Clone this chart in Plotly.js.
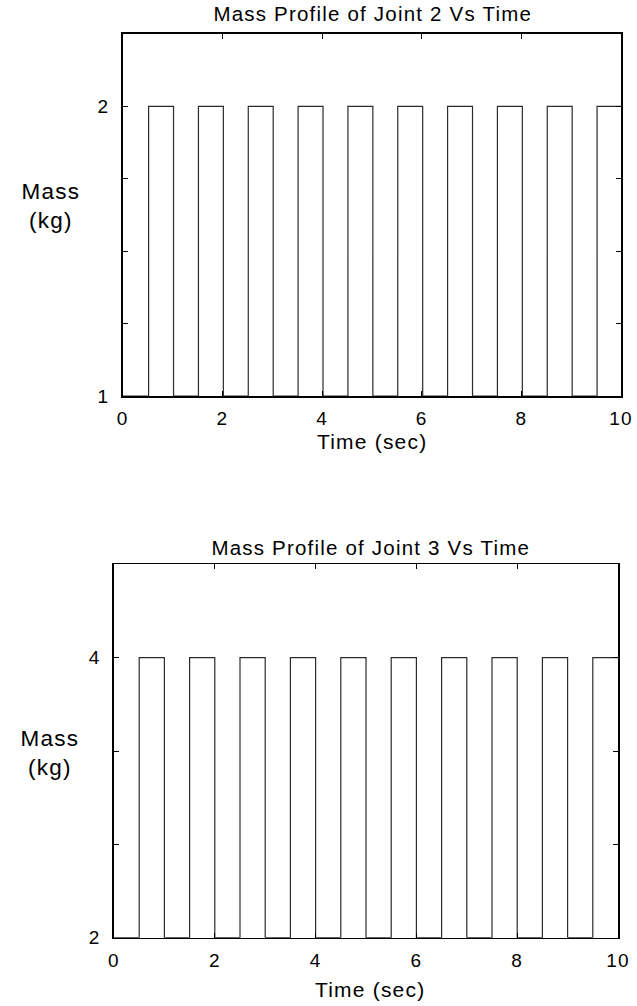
<!DOCTYPE html>
<html>
<head>
<meta charset="utf-8">
<script src="https://cdn.plot.ly/plotly-3.0.1.min.js"></script>
<style>
html, body { margin: 0; padding: 0; background: #fff; }
#chart { width: 637px; height: 1006px; }
#chart text { letter-spacing: 1.2px; }
</style>
</head>
<body>
<div id="chart"></div>
<script>
// ---- data ----
const xTickVals = [0, 2, 4, 6, 8, 10];
const xTickText = ['0', '2', '4', '6', '8', '10'];
const tEnd = 10;

// Joint 2 (top panel)
const j2RiseTimes = [0.52, 1.52, 2.52, 3.52, 4.52, 5.52, 6.52, 7.52, 8.52, 9.52];
const j2FallTimes = [1.02, 2.02, 3.02, 4.02, 5.02, 6.02, 7.02, 8.02, 9.02];
const j2Low = 1;
const j2High = 2;
const j2YTickVals = [1, 1.25, 1.5, 1.75, 2];
const j2YTickText = ['1', '', '', '', '2'];
const j2YRange = [1, 2.25];

// Joint 3 (bottom panel)
const j3RiseTimes = [0.5, 1.5, 2.5, 3.5, 4.5, 5.5, 6.5, 7.5, 8.5, 9.5];
const j3FallTimes = [1.0, 2.0, 3.0, 4.0, 5.0, 6.0, 7.0, 8.0, 9.0];
const j3Low = 2;
const j3High = 4;
const j3YTickVals = [2, 2.6667, 3.3333, 4, 4.6667];
const j3YTickText = ['2', '', '', '4', ''];
const j3YRange = [2, 4.6667];

const titles = ['Mass Profile of Joint 2 Vs Time', 'Mass Profile of Joint 3 Vs Time'];
const xLabel = 'Time (sec)';
const yLabel = 'Mass<br>(kg)';

// ---- build the square-wave paths ----
function pulsePath(rises, falls, low, high, end) {
  const x = [0], y = [low];
  for (let i = 0; i < rises.length; i++) {
    x.push(rises[i], rises[i]); y.push(low, high);
    if (i < falls.length) { x.push(falls[i], falls[i]); y.push(high, low); }
    else { x.push(end); y.push(high); }
  }
  return { x, y };
}
const p2 = pulsePath(j2RiseTimes, j2FallTimes, j2Low, j2High, tEnd);
const p3 = pulsePath(j3RiseTimes, j3FallTimes, j3Low, j3High, tEnd);

const lineStyle = { color: '#2e2a2a', width: 1.2 };
const traces = [
  { x: p2.x, y: p2.y, type: 'scatter', mode: 'lines', line: lineStyle, xaxis: 'x', yaxis: 'y', hoverinfo: 'skip' },
  { x: p3.x, y: p3.y, type: 'scatter', mode: 'lines', line: lineStyle, xaxis: 'x2', yaxis: 'y2', hoverinfo: 'skip' }
];

const font = { family: '"Liberation Sans", Arial, sans-serif', color: '#000' };
function xAxis(domain, anchor) {
  return {
    domain, anchor, range: [0, 10], tickmode: 'array', tickvals: xTickVals, ticktext: xTickText,
    showline: true, linecolor: '#000', linewidth: 1.6, mirror: 'allticks', layer: 'above traces',
    ticks: 'inside', ticklen: 5, tickwidth: 1, tickcolor: '#000',
    showgrid: false, zeroline: false, ticklabelstandoff: 5,
    tickfont: Object.assign({ size: 19 }, font)
  };
}
function yAxis(domain, anchor, range, vals, text) {
  return {
    domain, anchor, range, tickmode: 'array', tickvals: vals, ticktext: text,
    showline: true, linecolor: '#000', linewidth: 1.6, mirror: 'allticks', layer: 'above traces',
    ticks: 'inside', ticklen: 5, tickwidth: 1, tickcolor: '#000',
    showgrid: false, zeroline: false, ticklabelstandoff: 8,
    tickfont: Object.assign({ size: 19 }, font)
  };
}

const W = 637, H = 1006;
const layout = {
  width: W, height: H,
  margin: { l: 0, r: 0, t: 0, b: 0 },
  paper_bgcolor: '#fff', plot_bgcolor: '#fff',
  showlegend: false,
  font: font,
  xaxis: xAxis([122.7 / W, 621 / W], 'y'),
  yaxis: yAxis([1 - 396 / H, 1 - 34 / H], 'x', j2YRange, j2YTickVals, j2YTickText),
  xaxis2: xAxis([114 / W, 618 / W], 'y2'),
  yaxis2: yAxis([1 - 937.7 / H, 1 - 564.3 / H], 'x2', j3YRange, j3YTickVals, j3YTickText),
  annotations: [
    { text: titles[0], xref: 'paper', yref: 'paper', x: 372 / W, y: 1 - 14 / H, showarrow: false, xanchor: 'center', yanchor: 'middle', font: Object.assign({ size: 20.5 }, font) },
    { text: titles[1], xref: 'paper', yref: 'paper', x: 370 / W, y: 1 - 547 / H, showarrow: false, xanchor: 'center', yanchor: 'middle', font: Object.assign({ size: 20.5 }, font) },
    { text: xLabel, xref: 'paper', yref: 'paper', x: 372 / W, y: 1 - 442 / H, showarrow: false, xanchor: 'center', yanchor: 'middle', font: Object.assign({ size: 21 }, font) },
    { text: xLabel, xref: 'paper', yref: 'paper', x: 370 / W, y: 1 - 989 / H, showarrow: false, xanchor: 'center', yanchor: 'middle', font: Object.assign({ size: 21 }, font) },
    { text: yLabel, xref: 'paper', yref: 'paper', x: 51 / W, y: 1 - 206 / H, showarrow: false, xanchor: 'center', yanchor: 'middle', align: 'center', font: Object.assign({ size: 22.5 }, font) },
    { text: yLabel, xref: 'paper', yref: 'paper', x: 50 / W, y: 1 - 753 / H, showarrow: false, xanchor: 'center', yanchor: 'middle', align: 'center', font: Object.assign({ size: 22.5 }, font) }
  ]
};

Plotly.newPlot('chart', traces, layout, { staticPlot: true, displayModeBar: false });
</script>
</body>
</html>
